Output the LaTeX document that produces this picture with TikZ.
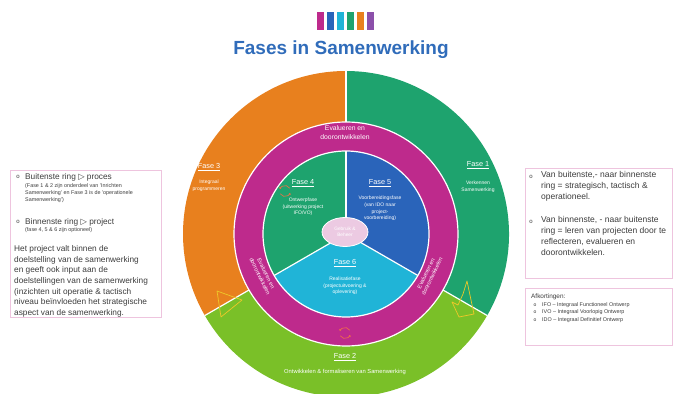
\documentclass[tikz,border=0pt]{standalone}
\usepackage{fontspec}
\setmainfont{Liberation Sans}
\newfontfamily\dejavu{DejaVu Sans}
\usetikzlibrary{shapes.geometric,arrows.meta}
\definecolor{cOrange}{RGB}{232,128,30}
\definecolor{cGreen}{RGB}{30,163,110}
\definecolor{cLime}{RGB}{122,192,40}
\definecolor{cMagenta}{RGB}{190,42,140}
\definecolor{cBlue}{RGB}{42,100,186}
\definecolor{cCyan}{RGB}{32,180,215}
\definecolor{cPink}{RGB}{236,202,226}
\definecolor{cTitle}{RGB}{48,108,186}
\definecolor{cPurple}{RGB}{140,80,170}
\definecolor{cBox}{RGB}{238,196,222}
\definecolor{cText}{RGB}{60,60,60}
\definecolor{cIcon}{RGB}{242,112,70}
\definecolor{cYellow}{RGB}{238,200,40}
\begin{document}
\begin{tikzpicture}[x=1pt,y=1pt,
  fasetitle/.style={text=white,font=\fontsize{7.3}{9}\selectfont,inner sep=0},
  fasedesc/.style={text=white,font=\fontsize{5}{6.6}\selectfont,align=center,inner sep=0},
  ringtxt/.style={text=white,font=\fontsize{5.6}{6.8}\selectfont,align=center,inner sep=0},
  boxframe/.style={draw=cBox,line width=0.8},
  bodytxt/.style={text=cText,font=\fontsize{8.3}{10.6}\selectfont,align=left,inner sep=0},
  smalltxt/.style={text=cText,font=\fontsize{5.4}{7}\selectfont,align=left,inner sep=0},
  bullet/.style={text=cText,font=\fontsize{6}{7}\selectfont,inner sep=0},
  divider/.style={white,line width=1.2},
  icon/.style={cIcon,line width=0.6,-{Stealth[length=2pt,width=2.5pt]}},
  yarrow/.style={cYellow,line width=0.7,line join=round}]
\useasboundingbox (0,0) rectangle (673,394);
\begin{scope}
\clip (0,0) rectangle (673,394);
% colour bars
\foreach \c [count=\i from 0] in {cMagenta,cBlue,cCyan,cGreen,cOrange,cPurple}
  \fill[\c] (317+10*\i,364) rectangle ++(7,18);
\node[text=cTitle,font=\fontsize{19}{22}\selectfont\bfseries,inner sep=0] (title) at (341,344) {Fases in Samenwerking};
% outer ring
\coordinate (C) at (346,160);
\fill[cOrange] (C) -- ++(90:163) arc[start angle=90,end angle=210,radius=163] -- cycle;
\fill[cLime] (C) -- ++(210:163) arc[start angle=210,end angle=330,radius=163] -- cycle;
\fill[cGreen] (C) -- ++(330:163) arc[start angle=330,end angle=450,radius=163] -- cycle;
\foreach \a in {90,210,330} \draw[divider] (C) -- ++(\a:163);
% magenta ring
\filldraw[fill=cMagenta,draw=white,line width=1.2] (C) circle[radius=112];
% inner circle
\fill[cGreen] (C) -- ++(90:83) arc[start angle=90,end angle=210,radius=83] -- cycle;
\fill[cCyan] (C) -- ++(210:83) arc[start angle=210,end angle=330,radius=83] -- cycle;
\fill[cBlue] (C) -- ++(330:83) arc[start angle=330,end angle=450,radius=83] -- cycle;
\foreach \a in {90,210,330} \draw[divider] (C) -- ++(\a:83);
\draw[divider] (C) circle[radius=83];
\node[ellipse,fill=cPink,draw=white,line width=0.8,minimum width=46,minimum height=29,inner sep=0,
  text=white,font=\fontsize{4.8}{6}\selectfont,align=center] (core) at (345,162) {Gebruik \&\\Beheer};
% outer ring texts
\node[fasetitle] (f3) at (209,227) {\underline{Fase 3}};
\node[fasedesc] (f3d) at (209,208) {Integraal\\programmeren};
\node[fasetitle] (f1) at (478,229) {\underline{Fase 1}};
\node[fasedesc] (f1d) at (478,207) {Verkennen\\Samenwerking};
\node[fasetitle] (f2) at (345,37) {\underline{Fase 2}};
\node[fasedesc,font=\fontsize{5.8}{7}\selectfont] (f2d) at (345,22) {Ontwikkelen \& formaliseren van Samenwerking};
% inner texts
\node[fasetitle] (f4) at (303,211) {\underline{Fase 4}};
\node[fasedesc] (f4d) at (303,187) {Ontwerpfase\\(uitwerking project\\IFO/VO)};
\node[fasetitle] (f5) at (380,211) {\underline{Fase 5}};
\node[fasedesc] (f5d) at (380,185.5) {Voorbereidingsfase\\(van IDO naar\\project-\\voorbereiding)};
\node[fasetitle] (f6) at (345,131) {\underline{Fase 6}};
\node[fasedesc] (f6d) at (345,108) {Realisatiefase\\(projectuitvoering \&\\oplevering)};
% magenta ring texts
\node[ringtxt,font=\fontsize{6.8}{9}\selectfont] (evtop) at (345,261) {Evalueren en\\doorontwikkelen};
\node[ringtxt,rotate=-64] (evleft) at (263,119) {Evalueren en\\doorontwikkelen};
\node[ringtxt,rotate=64] (evright) at (429,119) {Evalueren en\\doorontwikkelen};
% cycle icons
\coordinate (icA) at (285,203);
\coordinate (icB) at (345,61);
\draw[icon] (icA) ++(30:5.5) arc[start angle=30,end angle=160,radius=5.5];
\draw[icon] (icA) ++(210:5.5) arc[start angle=210,end angle=340,radius=5.5];
\draw[icon] (icB) ++(30:5.5) arc[start angle=30,end angle=160,radius=5.5];
\draw[icon] (icB) ++(210:5.5) arc[start angle=210,end angle=340,radius=5.5];
% yellow arrows
\draw[yarrow] (217,103) -- (242,94) -- (221,77) -- cycle;
\draw[yarrow] (467,113) -- (471,94) -- (474,80) -- (459,77) -- (452,92) -- (458,89) -- (463,100) -- cycle;
% left box
\draw[boxframe] (10,224) rectangle (161,77);
\node[bullet] (lb1) at (18,217) {o};
\node[bodytxt,anchor=west] (lt1) at (25,217) {Buitenste ring {\dejavu ▷} proces};
\node[smalltxt,anchor=north west] (ls1) at (25,211) {(Fase 1 \& 2 zijn onderdeel van 'Inrichten\\Samenwerking' en Fase 3 is de 'operationele\\Samenwerking')};
\node[bullet] (lb2) at (18,172) {o};
\node[bodytxt,anchor=west] (lt2) at (25,172) {Binnenste ring {\dejavu ▷} project};
\node[smalltxt,anchor=west] (ls2) at (25,164) {(fase 4, 5 \& 6 zijn optioneel)};
\node[bodytxt,anchor=north west] (lpar) at (14,148.5) {Het project valt binnen de\\doelstelling van de samenwerking\\en geeft ook input aan de\\doelstellingen van de samenwerking\\(inzichten uit operatie \& tactisch\\niveau beïnvloeden het strategische\\aspect van de samenwerking.};
% right box 1
\draw[boxframe] (525,226) rectangle (672,116);
\node[bullet] (rb1) at (531,217) {o};
\node[bodytxt,font=\fontsize{8.5}{11}\selectfont,anchor=north west] (rt1) at (541,222.5) {Van buitenste,- naar binnenste\\ring = strategisch, tactisch \&\\operationeel.};
\node[bullet] (rb2) at (531,172) {o};
\node[bodytxt,font=\fontsize{8.5}{11}\selectfont,anchor=north west] (rt2) at (541,177.5) {Van binnenste, - naar buitenste\\ring = leren van projecten door te\\reflecteren, evalueren en\\doorontwikkelen.};
% right box 2
\draw[boxframe] (525,106) rectangle (672,49);
\node[smalltxt,font=\fontsize{6.4}{7.5}\selectfont,anchor=west] (afk) at (531,97) {Afkortingen:};
\node[bullet,font=\fontsize{5}{6}\selectfont] (ab1) at (535,89) {o};
\node[smalltxt,anchor=west] (a1) at (542,89) {IFO – Integraal Functioneel Ontwerp};
\node[bullet,font=\fontsize{5}{6}\selectfont] (ab2) at (535,81.5) {o};
\node[smalltxt,anchor=west] (a2) at (542,81.5) {IVO – Integraal Voorlopig Ontwerp};
\node[bullet,font=\fontsize{5}{6}\selectfont] (ab3) at (535,74) {o};
\node[smalltxt,anchor=west] (a3) at (542,74) {IDO – Integraal Definitief Ontwerp};
\end{scope}
\end{tikzpicture}
\end{document}
